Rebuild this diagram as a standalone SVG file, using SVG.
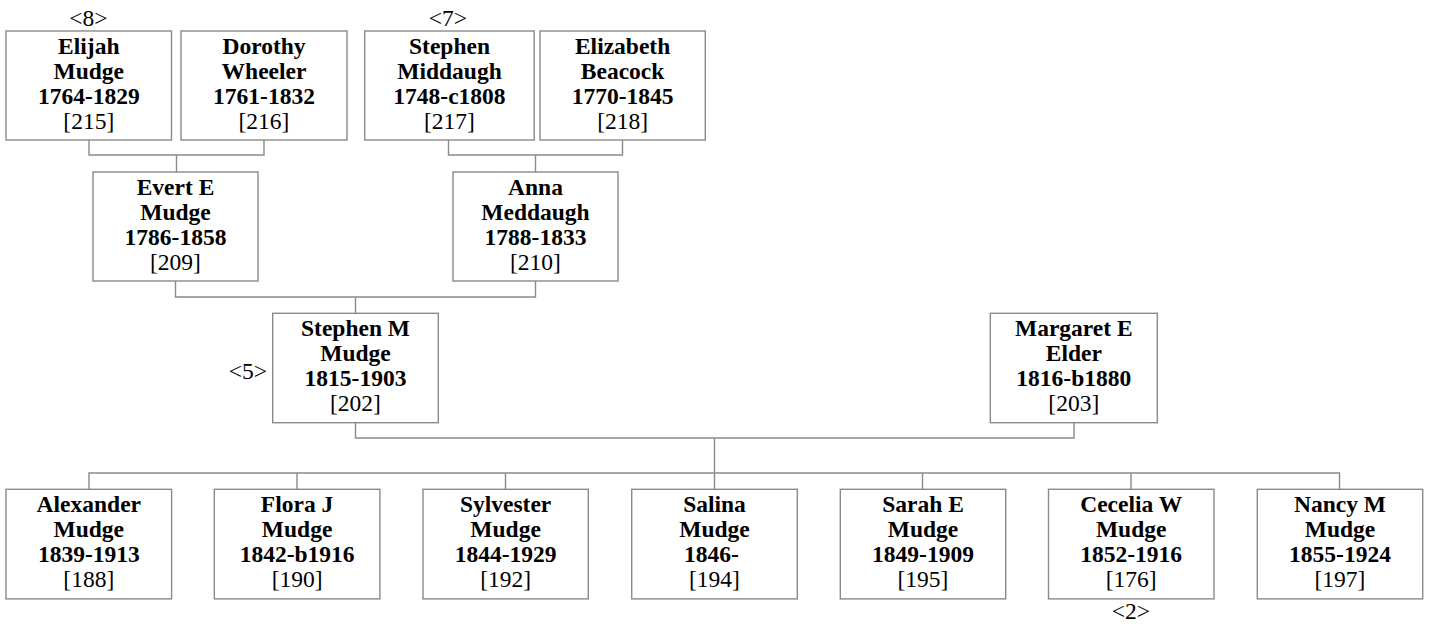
<svg xmlns="http://www.w3.org/2000/svg" width="1429" height="624" viewBox="0 0 1429 624">
<style>
  .box { fill: #ffffff; stroke: #8a8a8a; stroke-width: 1.4; }
  .conn { fill: none; stroke: #8a8a8a; stroke-width: 1.4; }
  .b { font-weight: bold; text-anchor: middle; }
  .n { text-anchor: middle; }
</style>
<rect x="0" y="0" width="1429" height="624" fill="#ffffff"/>

<g id="connectors">
  <path class="conn" d="M89,140 V155 H264 V140 M176.5,155 V172"/>
  <path class="conn" d="M448.5,140 V155 H622.5 V140 M535.5,155 V172"/>
  <path class="conn" d="M175.5,281 V297 H535.5 V281 M355.5,297 V313"/>
  <path class="conn" d="M355.5,422 V438 H1074 V422 M714.5,438 V473"/>
  <path class="conn" d="M89,489 V473 H1339.5 V489 M297,473 V489 M505.5,473 V489 M714.5,473 V489 M922.5,473 V489 M1131,473 V489"/>
</g>

<g font-family="'Liberation Serif', 'DejaVu Serif', serif" font-size="23.5" fill="#000000">
<g id="n215">
  <rect class="box" x="6" y="31" width="165.5" height="109"/>
  <text class="b" x="88.8" y="53.5">Elijah</text>
  <text class="b" x="88.8" y="78.5">Mudge</text>
  <text class="b" x="88.8" y="104">1764-1829</text>
  <text class="n" x="88.8" y="128.5">[215]</text>
</g>
<text class="n" x="88.5" y="25.5">&lt;8&gt;</text>

<g id="n216">
  <rect class="box" x="181" y="31" width="166" height="109"/>
  <text class="b" x="264" y="53.5">Dorothy</text>
  <text class="b" x="264" y="78.5">Wheeler</text>
  <text class="b" x="264" y="104">1761-1832</text>
  <text class="n" x="264" y="128.5">[216]</text>
</g>

<g id="n217">
  <rect class="box" x="364.7" y="31" width="169.5" height="109"/>
  <text class="b" x="449.5" y="53.5">Stephen</text>
  <text class="b" x="449.5" y="78.5">Middaugh</text>
  <text class="b" x="449.5" y="104">1748-c1808</text>
  <text class="n" x="449.5" y="128.5">[217]</text>
</g>
<text class="n" x="448" y="25.5">&lt;7&gt;</text>

<g id="n218">
  <rect class="box" x="540" y="31" width="165.3" height="109"/>
  <text class="b" x="622.6" y="53.5">Elizabeth</text>
  <text class="b" x="622.6" y="78.5">Beacock</text>
  <text class="b" x="622.6" y="104">1770-1845</text>
  <text class="n" x="622.6" y="128.5">[218]</text>
</g>

<g id="n209">
  <rect class="box" x="93" y="172" width="165" height="109"/>
  <text class="b" x="175.5" y="194.5">Evert E</text>
  <text class="b" x="175.5" y="219.5">Mudge</text>
  <text class="b" x="175.5" y="245">1786-1858</text>
  <text class="n" x="175.5" y="269.5">[209]</text>
</g>

<g id="n210">
  <rect class="box" x="453" y="172" width="165" height="109"/>
  <text class="b" x="535.5" y="194.5">Anna</text>
  <text class="b" x="535.5" y="219.5">Meddaugh</text>
  <text class="b" x="535.5" y="245">1788-1833</text>
  <text class="n" x="535.5" y="269.5">[210]</text>
</g>

<g id="n202">
  <rect class="box" x="272.7" y="313.3" width="165.6" height="109.4"/>
  <text class="b" x="355.5" y="335.5">Stephen M</text>
  <text class="b" x="355.5" y="360.5">Mudge</text>
  <text class="b" x="355.5" y="386">1815-1903</text>
  <text class="n" x="355.5" y="410.5">[202]</text>
</g>
<text x="267" y="379" text-anchor="end">&lt;5&gt;</text>

<g id="n203">
  <rect class="box" x="990.3" y="313.3" width="167" height="109.4"/>
  <text class="b" x="1073.8" y="335.5">Margaret E</text>
  <text class="b" x="1073.8" y="360.5">Elder</text>
  <text class="b" x="1073.8" y="386">1816-b1880</text>
  <text class="n" x="1073.8" y="410.5">[203]</text>
</g>

<g id="n188">
  <rect class="box" x="6" y="489.3" width="165.6" height="109.6"/>
  <text class="b" x="88.8" y="511.5">Alexander</text>
  <text class="b" x="88.8" y="536.5">Mudge</text>
  <text class="b" x="88.8" y="562">1839-1913</text>
  <text class="n" x="88.8" y="586.5">[188]</text>
</g>

<g id="n190">
  <rect class="box" x="214.3" y="489.3" width="165.6" height="109.6"/>
  <text class="b" x="297.1" y="511.5">Flora J</text>
  <text class="b" x="297.1" y="536.5">Mudge</text>
  <text class="b" x="297.1" y="562">1842-b1916</text>
  <text class="n" x="297.1" y="586.5">[190]</text>
</g>

<g id="n192">
  <rect class="box" x="423" y="489.3" width="165.3" height="109.6"/>
  <text class="b" x="505.6" y="511.5">Sylvester</text>
  <text class="b" x="505.6" y="536.5">Mudge</text>
  <text class="b" x="505.6" y="562">1844-1929</text>
  <text class="n" x="505.6" y="586.5">[192]</text>
</g>

<g id="n194">
  <rect class="box" x="631.7" y="489.3" width="165.6" height="109.6"/>
  <text class="b" x="714.5" y="511.5">Salina</text>
  <text class="b" x="714.5" y="536.5">Mudge</text>
  <text class="b" x="711.5" y="562">1846-</text>
  <text class="n" x="714.5" y="586.5">[194]</text>
</g>

<g id="n195">
  <rect class="box" x="840.3" y="489.3" width="165.4" height="109.6"/>
  <text class="b" x="923" y="511.5">Sarah E</text>
  <text class="b" x="923" y="536.5">Mudge</text>
  <text class="b" x="923" y="562">1849-1909</text>
  <text class="n" x="923" y="586.5">[195]</text>
</g>

<g id="n176">
  <rect class="box" x="1048.5" y="489.3" width="165.5" height="109.6"/>
  <text class="b" x="1131.2" y="511.5">Cecelia W</text>
  <text class="b" x="1131.2" y="536.5">Mudge</text>
  <text class="b" x="1131.2" y="562">1852-1916</text>
  <text class="n" x="1131.2" y="586.5">[176]</text>
</g>
<text class="n" x="1131" y="619">&lt;2&gt;</text>

<g id="n197">
  <rect class="box" x="1257.3" y="489.3" width="165.4" height="109.6"/>
  <text class="b" x="1340" y="511.5">Nancy M</text>
  <text class="b" x="1340" y="536.5">Mudge</text>
  <text class="b" x="1340" y="562">1855-1924</text>
  <text class="n" x="1340" y="586.5">[197]</text>
</g>
</g>
</svg>
